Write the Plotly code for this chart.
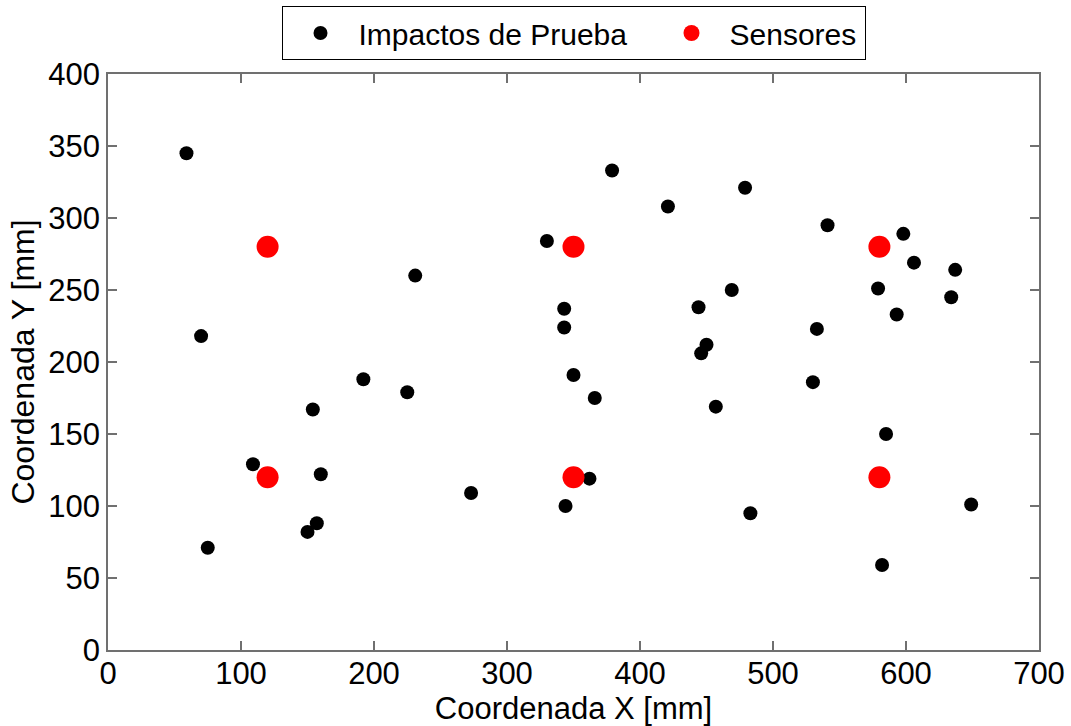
import plotly.graph_objects as go

# Test impact coordinates [mm]
impact_x = [59, 330, 231, 70, 379, 421, 479, 541, 598, 606, 637, 579, 634, 593, 533,
            469, 444, 450, 446, 343, 343, 350, 192, 225, 154, 109, 160, 273, 157, 150,
            75, 366, 457, 530, 585, 362, 344, 483, 649, 582]
impact_y = [345, 284, 260, 218, 333, 308, 321, 295, 289, 269, 264, 251, 245, 233, 223,
            250, 238, 212, 206, 237, 224, 191, 188, 179, 167, 129, 122, 109, 88, 82,
            71, 175, 169, 186, 150, 119, 100, 95, 101, 59]

# Sensor coordinates [mm]
sensor_x = [120, 350, 580, 120, 350, 580]
sensor_y = [280, 280, 280, 120, 120, 120]

x_ticks = [0, 100, 200, 300, 400, 500, 600, 700]
y_ticks = [0, 50, 100, 150, 200, 250, 300, 350, 400]

FONT = "Liberation Sans, Arial, sans-serif"

fig = go.Figure()
fig.add_trace(go.Scatter(x=impact_x, y=impact_y, mode="markers",
                         name="Impactos de Prueba", legendwidth=290,
                         marker=dict(color="black", size=14)))
fig.add_trace(go.Scatter(x=sensor_x, y=sensor_y, mode="markers",
                         name="Sensores", legendwidth=130,
                         marker=dict(color="#ff0000", size=22)))

axis_common = dict(showgrid=False, zeroline=False, showline=True, linecolor="#707070",
                   linewidth=1.5, mirror="ticks", ticks="inside", ticklen=9,
                   tickcolor="#707070", tickwidth=1.5, automargin=False,
                   tickfont=dict(family=FONT, size=31, color="black"))

fig.update_layout(
    width=1071, height=726,
    margin=dict(l=108, r=32, t=74, b=76, autoexpand=False),
    paper_bgcolor="white", plot_bgcolor="white",
    font=dict(family=FONT, color="black"),
    showlegend=True,
    legend=dict(orientation="h", x=0.5, xanchor="center", xref="paper",
                y=1 - 6 / 726, yanchor="top", yref="container",
                itemwidth=66, entrywidthmode="pixels",
                bordercolor="black", borderwidth=1, bgcolor="white",
                font=dict(family=FONT, size=30, color="black")),
    xaxis=dict(range=[0, 700], tickvals=x_ticks, ticklabelstandoff=-5,
               title=dict(text="Coordenada X [mm]", font=dict(family=FONT, size=31), standoff=0),
               **axis_common),
    yaxis=dict(range=[0, 400], tickvals=y_ticks,
               title=dict(text="Coordenada Y [mm]", font=dict(family=FONT, size=32), standoff=4),
               **axis_common),
)

fig.write_html("out.html")
